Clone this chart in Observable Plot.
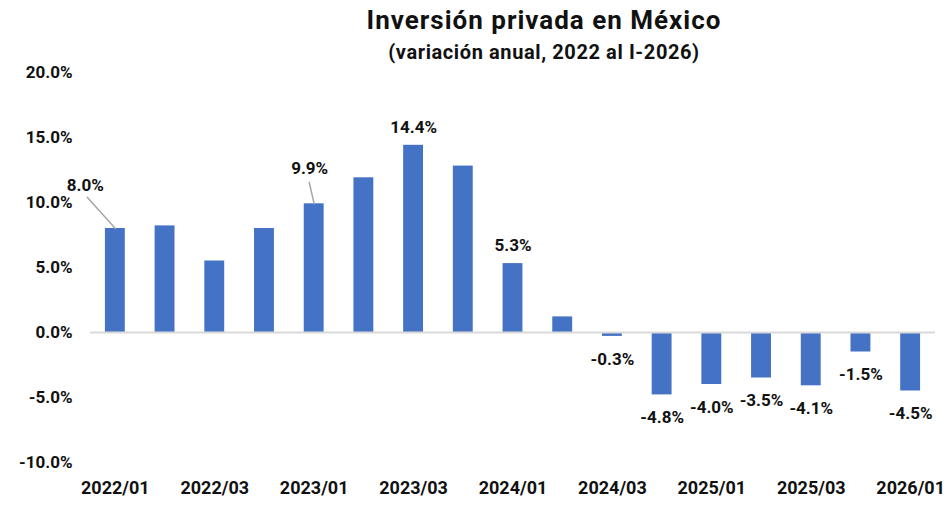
<!DOCTYPE html>
<html>
<head>
<meta charset="utf-8">
<script src="https://cdn.jsdelivr.net/npm/d3@7"></script>
<script src="https://cdn.jsdelivr.net/npm/@observablehq/plot@0.6"></script>
<style>
  html, body { margin: 0; padding: 0; background: #fff; }
  #wrap { position: relative; width: 952px; height: 510px; font-family: Roboto, "Noto Sans", sans-serif; }
  .title, .subtitle {
    position: absolute; left: 544px; transform: translateX(-50%);
    white-space: nowrap; font-weight: 700; color: #111; line-height: 1;
  }
  .title { top: 7px; font-size: 26px; letter-spacing: 1px; }
  .subtitle { top: 42px; font-size: 20px; letter-spacing: 0.6px; }
  #chart { position: absolute; left: 0; top: 0; }
</style>
</head>
<body>
<div id="wrap">
  <div id="chart"></div>
  <div class="title">Inversión privada en México</div>
  <div class="subtitle">(variación anual, 2022 al I-2026)</div>
</div>
<script>
// Quarterly year-over-year change in private investment (%)
const quarters = ["2022/01","2022/02","2022/03","2022/04","2023/01","2023/02","2023/03","2023/04",
                  "2024/01","2024/02","2024/03","2024/04","2025/01","2025/02","2025/03","2025/04","2026/01"];
const values = [8.0, 8.2, 5.5, 8.0, 9.9, 11.9, 14.4, 12.8, 5.3, 1.2, -0.3, -4.8, -4.0, -3.5, -4.1, -1.5, -4.5];

// Quarters whose value is printed on the chart
const labeledQuarters = ["2022/01","2023/01","2023/03","2024/01","2024/03","2024/04",
                         "2025/01","2025/02","2025/03","2025/04","2026/01"];

// Axis ticks
const xTickLabels = ["2022/01","2022/03","2023/01","2023/03","2024/01","2024/03","2025/01","2025/03","2026/01"];
const yTickValues = [-10, -5, 0, 5, 10, 15, 20];

const data = quarters.map((q, i) => ({quarter: q, value: values[i]}));
const pct = v => v.toFixed(1) + "%";

// Labels pulled away from their bars with a short leader line
const callouts = {
  "2022/01": {dx: -30, dy: -43, length: 42, rotate: -42},
  "2023/01": {dx: -4.5, dy: -35.5, length: 22, rotate: -13}
};
const leaderShape = {
  draw(context, l) { context.moveTo(0, 0); context.lineTo(0, -l); }
};

const plain = data.filter(d => labeledQuarters.includes(d.quarter) && !callouts[d.quarter]);
const calloutMarks = Object.entries(callouts).flatMap(([q, c]) => {
  const d = data.filter(e => e.quarter === q);
  return [
    Plot.vector(d, {x: "quarter", y: "value", length: c.length, rotate: c.rotate, anchor: "start",
                    shape: leaderShape, stroke: "#a6a6a6", strokeWidth: 1.5}),
    Plot.text(d, {x: "quarter", y: "value", text: e => pct(e.value), dx: c.dx, dy: c.dy,
                  fontSize: 17, fontWeight: 700, fill: "#111"})
  ];
});

const chart = Plot.plot({
  width: 952,
  height: 510,
  marginTop: 72,
  marginBottom: 48,
  marginLeft: 90,
  marginRight: 17,
  style: {fontFamily: "Roboto, 'Noto Sans', sans-serif", background: "transparent"},
  x: {domain: quarters, paddingInner: 0.6, paddingOuter: 0.3, round: false, label: null},
  y: {domain: [-10, 20], label: null},
  marks: [
    Plot.barY(data, {x: "quarter", y: "value", fill: "#4472C4"}),
    Plot.ruleY([0], {stroke: "#d9d9d9", strokeWidth: 2}),
    Plot.axisY({ticks: yTickValues, tickFormat: pct, tickSize: 0, tickPadding: 18,
                fontSize: 17, fontWeight: 700, fill: "#111", label: null}),
    Plot.axisX({ticks: xTickLabels, tickSize: 0, tickPadding: 19,
                fontSize: 18, fontWeight: 700, fill: "#111", label: null}),
    Plot.text(plain.filter(d => d.value >= 0), {x: "quarter", y: "value", text: d => pct(d.value),
              dy: -18, fontSize: 17, fontWeight: 700, fill: "#111"}),
    Plot.text(plain.filter(d => d.value < 0), {x: "quarter", y: "value", text: d => pct(d.value),
              dy: 23, fontSize: 17, fontWeight: 700, fill: "#111"}),
    ...calloutMarks
  ]
});
document.getElementById("chart").append(chart);
</script>
</body>
</html>
